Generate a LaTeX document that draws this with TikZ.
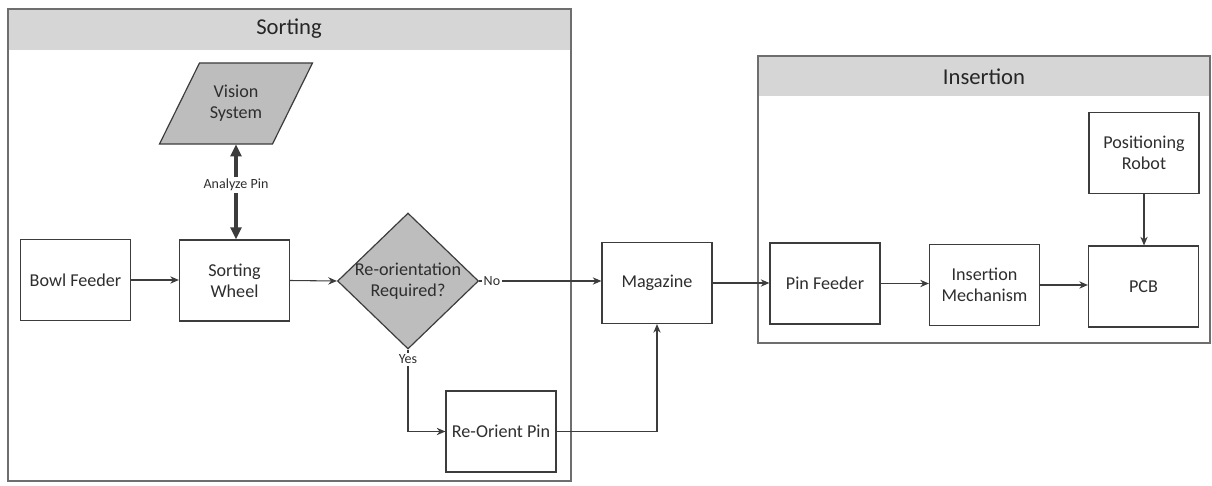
\documentclass[tikz,border=0pt]{standalone}
\usepackage{fontspec}
\setmainfont{Carlito}
\usetikzlibrary{shapes.geometric,arrows.meta,calc}
\definecolor{ln}{HTML}{3C3C3C}
\definecolor{tx}{HTML}{2E2E2E}
\definecolor{shade}{HTML}{BDBDBD}
\definecolor{hdr}{HTML}{D6D6D6}
\definecolor{framec}{HTML}{6E6E6E}
\tikzset{
 box/.style={draw=ln, line width=0.9pt, fill=white, minimum width=82.5pt, minimum height=60.75pt, inner sep=1pt, align=center, text=tx, font=\fontsize{13.6}{16}\selectfont},
 txt/.style={align=center, text=tx, font=\fontsize{13.6}{16}\selectfont, inner sep=0pt},
 arr/.style={draw=ln, line width=0.8pt, -{Stealth[length=6.5pt,width=5.5pt]}},
 thickarr/.style={draw=ln, line width=2.4pt, {Triangle[length=9pt,width=8pt]}-{Triangle[length=9pt,width=8pt]}},
 lbl/.style={font=\fontsize{10.5}{12}\selectfont, text=tx, fill=white, inner sep=1.5pt},
 container/.style={draw=framec, line width=0.8pt},
 title/.style={font=\fontsize{17}{20}\selectfont, text=black!85},
 decision/.style={diamond, draw=ln, line width=0.9pt, fill=shade, minimum width=105.75pt, minimum height=102pt, inner sep=0pt},
}
\begin{document}
\begin{tikzpicture}[x=0.75pt,y=-0.75pt]
\useasboundingbox (0,0) rectangle (1212,485);
% Sorting container
\fill[hdr] (8,9) rectangle (571,50);
\draw[container] (8,9) rectangle (571,481);
\node[title] (sorttitle) at (289,29) {Sorting};
% Insertion container
\fill[hdr] (758,56) rectangle (1210,96);
\draw[container] (758,56) rectangle (1210,343);
\node[title] (institle) at (984,77) {Insertion};
% Vision system (parallelogram)
\coordinate (visc) at (236,103.5);
\draw[ln, line width=0.9pt, fill=shade] ($(visc)+(-76.5,40.5)$) -- ($(visc)+(36.5,40.5)$) -- ($(visc)+(76.5,-40.5)$) -- ($(visc)+(-36.5,-40.5)$) -- cycle;
\node[txt, minimum height=60.75pt, minimum width=60pt] (vis) at (visc) {Vision\\System};
% boxes
\node[box] (bowl) at (75.5,280) {Bowl Feeder};
\node[box] (wheel) at (234.5,280.5) {Sorting\\Wheel};
\node[decision] (dia) at (408,281) {};
\node[txt] (diatext) at (dia.center) {Re-orientation\\Required?};
\node[box] (rop) at (501,431.5) {Re-Orient Pin};
\node[box] (mag) at (657,283) {Magazine};
\node[box] (pinf) at (825,283.5) {Pin Feeder};
\node[box] (insm) at (984.5,285) {Insertion\\Mechanism};
\node[box] (pcb) at (1143.5,286.5) {PCB};
\node[box] (robot) at (1144,153) {Positioning\\Robot};
% connectors
\draw[thickarr] (vis.south) -- node[lbl, pos=0.43] (anlbl) {Analyze Pin} (vis.south |- wheel.north);
\draw[arr] (bowl.east) -- (bowl.east -| wheel.west);
\draw[arr] (wheel.east) -- (dia.west);
\draw[arr] (dia.east) -- node[lbl, pos=0.105] (nolbl) {No} (dia.east -| mag.west);
\draw[arr] (dia.south) |- node[lbl, pos=0.06] (yeslbl) {Yes} (rop.west);
\draw[arr] (rop.east) -| (mag.south);
\draw[arr] (mag.east) -- (mag.east -| pinf.west);
\draw[arr] (pinf.east) -- (pinf.east -| insm.west);
\draw[arr] (insm.east) -- (insm.east -| pcb.west);
\draw[arr] (robot.south) -- (robot.south |- pcb.north);
\end{tikzpicture}
\end{document}
